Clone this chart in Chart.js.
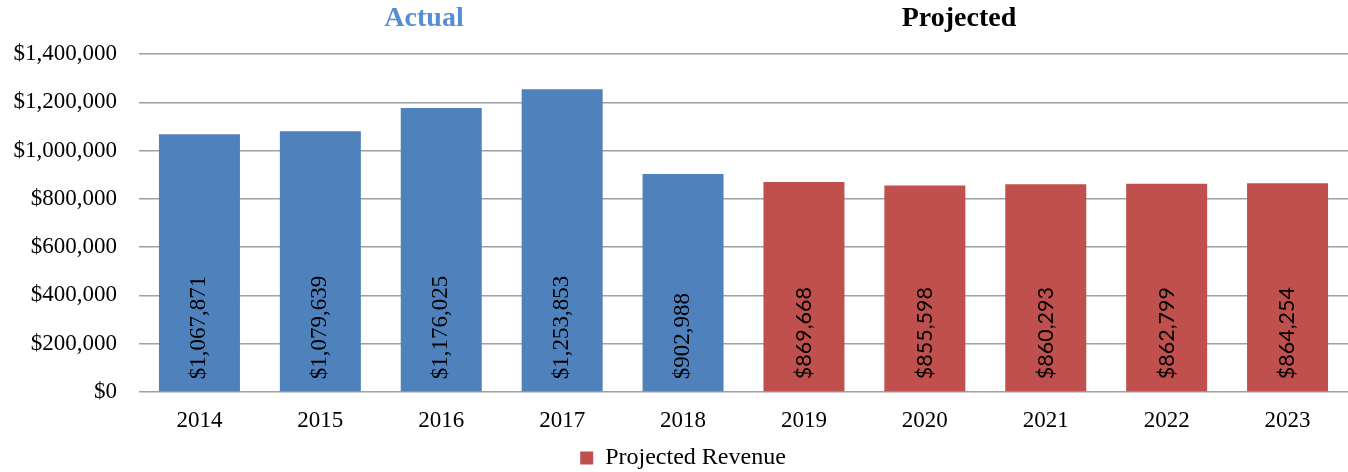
<!DOCTYPE html>
<html>
<head>
<meta charset="utf-8">
<script src="https://cdn.jsdelivr.net/npm/chart.js@4/dist/chart.umd.min.js"></script>
<style>
  html, body { margin: 0; padding: 0; background: #fff; }
  #wrap { width: 1348px; height: 472px; position: relative; }
</style>
</head>
<body>
<div id="wrap"><canvas id="revChart"></canvas></div>
<script>
// values
const years = ['2014', '2015', '2016', '2017', '2018', '2019', '2020', '2021', '2022', '2023'];
const actualRevenue = [1067871, 1079639, 1176025, 1253853, 902988, null, null, null, null, null];
const projectedRevenue = [null, null, null, null, null, 869668, 855598, 860293, 862799, 864254];
const yTicks = [0, 200000, 400000, 600000, 800000, 1000000, 1200000, 1400000];

const SERIF = '"Liberation Serif", "DejaVu Serif", serif';
const BLUE = '#4F81BD';
const RED = '#C0504D';

const money = v => '$' + Math.round(v).toLocaleString('en-US');

// rotated value labels sitting on the bar base
const barLabels = {
    id: 'barLabels',
    afterDatasetsDraw(chart) {
        const ctx = chart.ctx;
        chart.data.datasets.forEach((ds, di) => {
            const meta = chart.getDatasetMeta(di);
            meta.data.forEach((bar, i) => {
                const v = ds.data[i];
                if (v == null) return;
                ctx.save();
                ctx.translate(bar.x, bar.base - 12);
                ctx.rotate(-Math.PI / 2);
                ctx.fillStyle = '#000';
                ctx.font = di === 0 ? '23px ' + SERIF : '21.5px Lato, "Open Sans", sans-serif';
                ctx.textAlign = 'left';
                ctx.textBaseline = 'middle';
                ctx.fillText(money(v), 0, 0);
                ctx.restore();
            });
        });
    }
};

// "Actual" / "Projected" headings
const headings = {
    id: 'headings',
    afterDraw(chart) {
        const ctx = chart.ctx;
        ctx.save();
        ctx.font = 'bold 28px ' + SERIF;
        ctx.textAlign = 'center';
        ctx.textBaseline = 'middle';
        ctx.fillStyle = '#558ED5';
        ctx.fillText('Actual', 424, 19);
        ctx.fillStyle = '#000';
        ctx.fillText('Projected', 959, 19);
        ctx.restore();
    }
};

// legend sits a little right of the canvas centre in the original
const nudgeLegend = {
    id: 'nudgeLegend',
    afterLayout(chart) {
        if (chart.legend) {
            chart.legend.left += 9;
            chart.legend.right += 9;
        }
    }
};

new Chart(document.getElementById('revChart'), {
    type: 'bar',
    data: {
        labels: years,
        datasets: [
            { label: 'Actual Revenue', data: actualRevenue, backgroundColor: BLUE },
            { label: 'Projected Revenue', data: projectedRevenue, backgroundColor: RED }
        ]
    },
    options: {
        responsive: true,
        maintainAspectRatio: false,
        animation: false,
        grouped: false,
        barPercentage: 0.67,
        categoryPercentage: 1,
        layout: { padding: { top: 54, right: 0, left: 0, bottom: -8 } },
        plugins: {
            legend: {
                position: 'bottom',
                labels: {
                    filter: item => item.datasetIndex === 1,
                    boxWidth: 13,
                    boxHeight: 13,
                    padding: 0,
                    color: '#000',
                    font: { family: SERIF, size: 24 }
                }
            },
            tooltip: { enabled: false }
        },
        scales: {
            y: {
                min: 0,
                max: 1400000,
                afterBuildTicks: axis => { axis.ticks = yTicks.map(v => ({ value: v })); },
                afterFit: axis => { axis.width = 139; },
                ticks: {
                    callback: v => money(v),
                    color: '#000',
                    padding: 22,
                    font: { family: SERIF, size: 23 }
                },
                grid: { color: '#a0a0a0', lineWidth: 1.5, drawTicks: false },
                border: { display: false }
            },
            x: {
                afterFit: axis => { axis.height = 54; },
                ticks: {
                    color: '#000',
                    padding: 15,
                    font: { family: SERIF, size: 23 }
                },
                grid: { display: false, drawTicks: false },
                border: { display: false }
            }
        }
    },
    plugins: [barLabels, headings, nudgeLegend]
});
</script>
</body>
</html>
